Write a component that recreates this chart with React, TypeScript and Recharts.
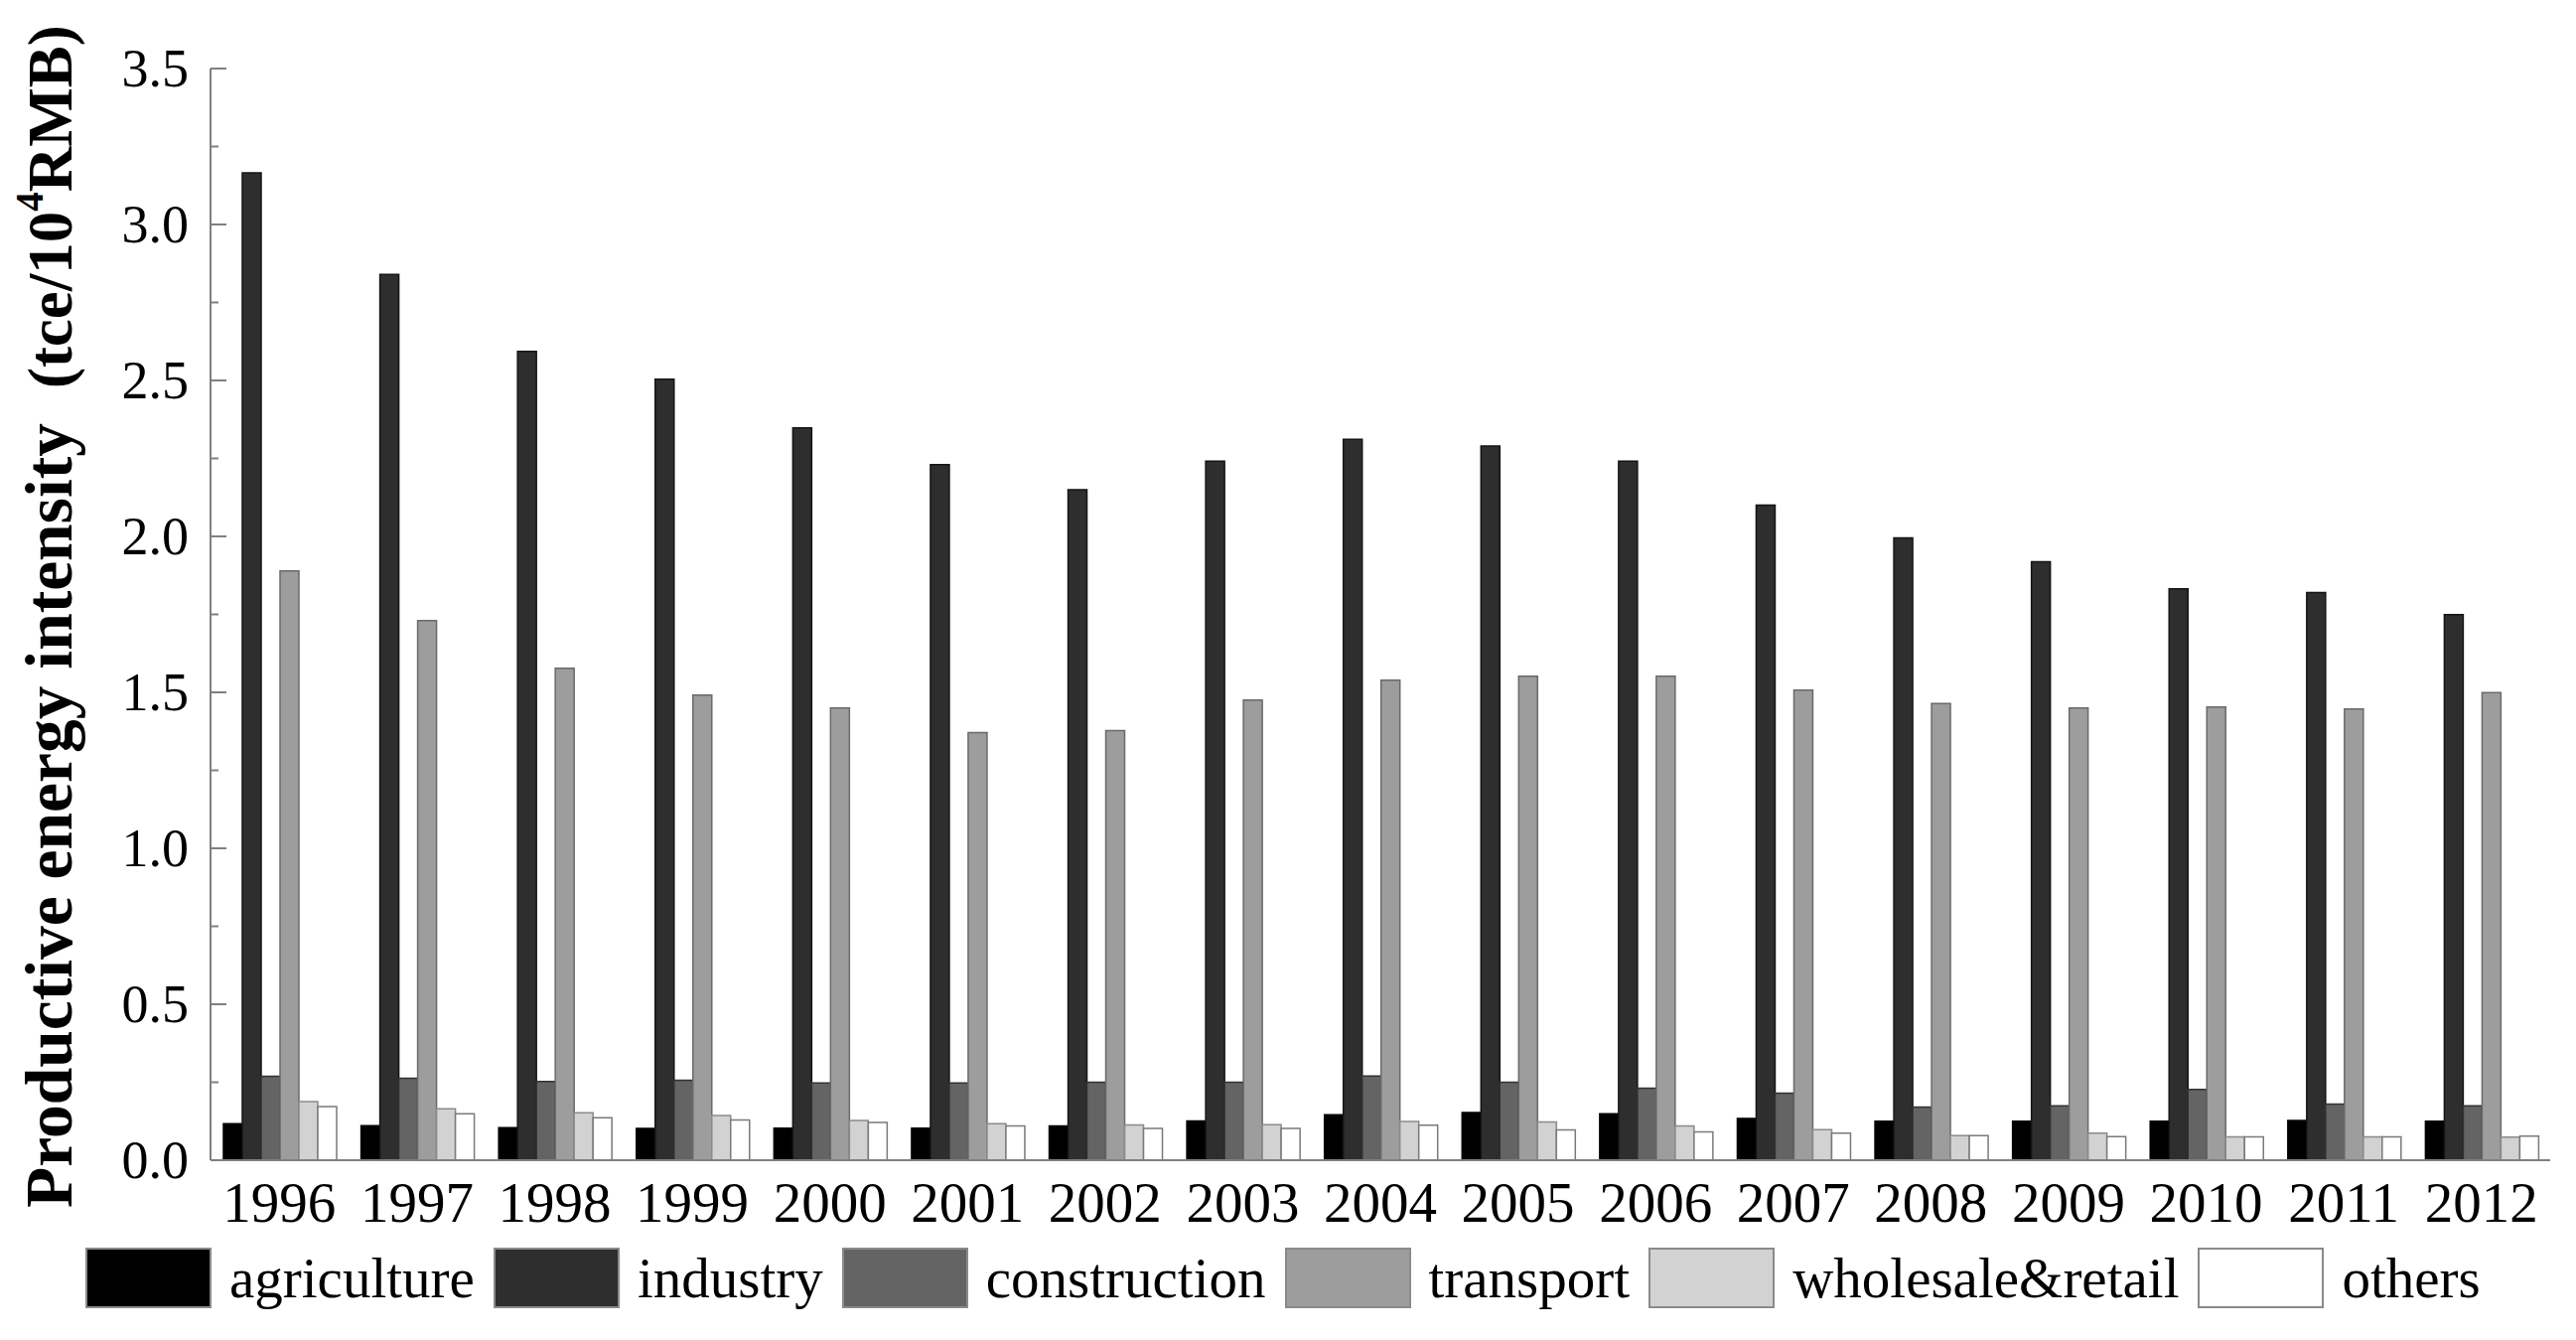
import React from 'react';
import { BarChart, Bar, XAxis, YAxis, Legend } from 'recharts';

const years = ['1996', '1997', '1998', '1999', '2000', '2001', '2002', '2003', '2004', '2005', '2006', '2007', '2008', '2009', '2010', '2011', '2012'];
const agriculture = [0.117, 0.111, 0.104, 0.102, 0.103, 0.103, 0.110, 0.126, 0.146, 0.153, 0.149, 0.134, 0.125, 0.125, 0.125, 0.127, 0.125];
const industry = [3.166, 2.840, 2.593, 2.504, 2.348, 2.230, 2.150, 2.241, 2.311, 2.290, 2.241, 2.100, 1.995, 1.919, 1.832, 1.820, 1.749];
const construction = [0.269, 0.263, 0.252, 0.256, 0.248, 0.248, 0.250, 0.250, 0.270, 0.250, 0.231, 0.215, 0.170, 0.174, 0.227, 0.180, 0.174];
const transport = [1.889, 1.730, 1.577, 1.491, 1.450, 1.371, 1.377, 1.475, 1.539, 1.552, 1.552, 1.507, 1.464, 1.450, 1.453, 1.447, 1.499];
const wholesaleRetail = [0.188, 0.165, 0.152, 0.143, 0.127, 0.117, 0.113, 0.114, 0.124, 0.123, 0.110, 0.098, 0.079, 0.087, 0.075, 0.075, 0.074];
const others = [0.172, 0.149, 0.136, 0.129, 0.121, 0.110, 0.102, 0.102, 0.112, 0.097, 0.091, 0.087, 0.079, 0.076, 0.075, 0.075, 0.077];

const yTicks = [0, 0.25, 0.5, 0.75, 1, 1.25, 1.5, 1.75, 2, 2.25, 2.5, 2.75, 3, 3.25, 3.5];

const seriesNames = ['agriculture', 'industry', 'construction', 'transport', 'wholesale&retail', 'others'];
const seriesFills = ['#000000', '#2e2e2e', '#646464', '#9d9d9d', '#d2d2d2', '#ffffff'];
const seriesStrokes = ['#000000', '#151515', '#333333', '#6a6a6a', '#8a8a8a', '#7a7a7a'];
const seriesValues = [agriculture, industry, construction, transport, wholesaleRetail, others];

const data = years.map((year, i) => {
  const row: Record<string, number | string> = { year };
  seriesNames.forEach((n, k) => {
    row[n] = seriesValues[k][i];
  });
  return row;
});

const FONT = "'Liberation Serif', 'Times New Roman', Times, serif";
const AXIS_GRAY = '#808080';

const YTick = (props: any) => {
  const { x, y, payload } = props;
  const v = payload.value as number;
  const major = Math.abs(v * 2 - Math.round(v * 2)) < 1e-6;
  return (
    <g>
      <line x1={x} x2={x + (major ? 16 : 8)} y1={y} y2={y} stroke={AXIS_GRAY} strokeWidth={2} />
      {major && (
        <text x={x - 22} y={y} dy={18} textAnchor="end" fontSize={54} fontFamily={FONT} fill="#000">
          {v.toFixed(1)}
        </text>
      )}
    </g>
  );
};

const YLabel = () => {
  const cx = 72;
  const cy = 1216;
  return (
    <text
      x={cx}
      y={cy}
      transform={`rotate(-90, ${cx}, ${cy})`}
      textAnchor="start"
      fontSize={67.5}
      fontWeight="bold"
      fontFamily={FONT}
      fill="#000"
    >
      Productive energy intensity
      <tspan dx={35} fontSize={63}>(tce/10</tspan>
      <tspan fontSize={39} dy={-29}>4</tspan>
      <tspan dy={29} fontSize={63}>RMB)</tspan>
    </text>
  );
};

const LegendContent = () => (
  <div
    style={{
      display: 'flex',
      alignItems: 'center',
      height: 61,
      paddingLeft: 86,
      whiteSpace: 'nowrap',
      fontFamily: FONT,
    }}
  >
    {seriesNames.map((name, i) => (
      <div key={name} style={{ display: 'flex', alignItems: 'center', marginRight: 19 }}>
        <div
          style={{
            width: 127,
            height: 61,
            boxSizing: 'border-box',
            background: seriesFills[i],
            border: '2px solid #8a8a8a',
            marginRight: 18,
          }}
        />
        <span style={{ fontSize: 57, lineHeight: '61px', color: '#000' }}>{name}</span>
      </div>
    ))}
  </div>
);

export default function App() {
  return (
    <div style={{ position: 'absolute', left: 0, top: 0, width: 2594, height: 1349, background: '#fff' }}>
      <BarChart
        width={2594}
        height={1349}
        data={data}
        margin={{ top: 69, right: 26, left: 0, bottom: 31 }}
        barCategoryGap={13}
        barGap={0}
      >
        <XAxis
          dataKey="year"
          height={89}
          axisLine={{ stroke: AXIS_GRAY, strokeWidth: 2 }}
          tickLine={false}
          tickSize={0}
          tickMargin={22}
          interval={0}
          tick={{ fontSize: 57, fontFamily: FONT, fill: '#000' }}
        />
        <YAxis
          width={212}
          domain={[0, 3.5]}
          ticks={yTicks}
          interval={0}
          axisLine={{ stroke: AXIS_GRAY, strokeWidth: 2 }}
          tickLine={false}
          tickSize={0}
          tickMargin={0}
          tick={<YTick />}
          label={<YLabel />}
        />
        <Legend
          verticalAlign="bottom"
          align="left"
          wrapperStyle={{ top: 1256, left: 0 }}
          content={<LegendContent />}
        />
        {seriesNames.map((name, k) => (
          <Bar
            key={name}
            dataKey={name}
            name={name}
            fill={seriesFills[k]}
            stroke={seriesStrokes[k]}
            strokeWidth={1.5}
            isAnimationActive={false}
          />
        ))}
      </BarChart>
    </div>
  );
}
